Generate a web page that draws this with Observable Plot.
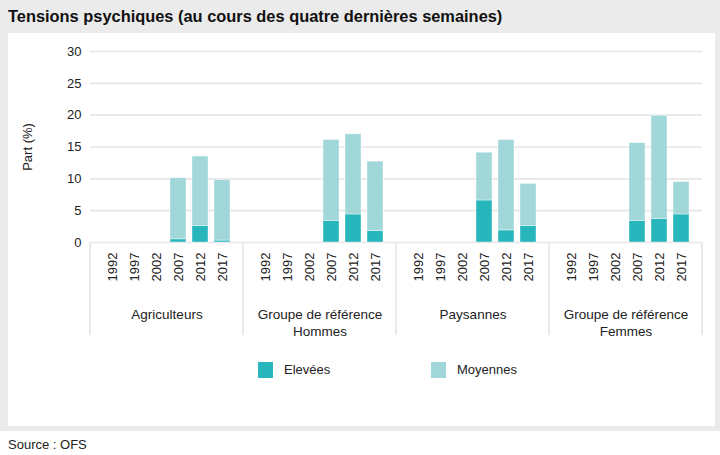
<!DOCTYPE html>
<html>
<head>
<meta charset="utf-8">
<script src="https://cdn.jsdelivr.net/npm/d3@7"></script>
<script src="https://cdn.jsdelivr.net/npm/@observablehq/plot@0.6"></script>
<style>
  html, body { margin: 0; padding: 0; background: #fff; }
  body { width: 720px; height: 455px; overflow: hidden; font-family: "Liberation Sans", Arial, sans-serif; color: #222; }
  #frame { position: absolute; left: 0; top: 0; width: 720px; height: 431px; background: #ebebeb; }
  #title { position: absolute; left: 8px; top: 0; height: 33px; line-height: 33px; font-size: 16.4px; font-weight: bold; color: #111; white-space: nowrap; }
  #panel { position: absolute; left: 8px; top: 33px; width: 707px; height: 393px; background: #fff; }
  #chart { position: absolute; left: 0; top: 0; }
  .leg { position: absolute; top: 329px; height: 16px; font-size: 13px; line-height: 16px; white-space: nowrap; }
  .sw { display: inline-block; width: 15px; height: 16px; vertical-align: top; margin-right: 11px; }
  #source { position: absolute; left: 8px; top: 436px; font-size: 13px; line-height: 18px; color: #222; }
</style>
</head>
<body>
<div id="frame">
  <div id="title">Tensions psychiques (au cours des quatre dernières semaines)</div>
  <div id="panel">
    <div id="chart"></div>
    <div id="legend"></div>
  </div>
</div>
<div id="source">Source : OFS</div>
<script>
const groups = ["Agriculteurs", "Groupe de référence\nHommes", "Paysannes", "Groupe de référence\nFemmes"];
const years = ["1992", "1997", "2002", "2007", "2012", "2017"];
const seriesNames = ["Elevées", "Moyennes"];
const seriesColors = ["#26b6bb", "#a2d7da"];
const yTicks = [0, 5, 10, 15, 20, 25, 30];

// values per group, one per year (null = no data)
const elevees = {
  "Agriculteurs":                  [null, null, null, 0.5, 2.6, 0.3],
  "Groupe de référence\nHommes":   [null, null, null, 3.4, 4.4, 1.8],
  "Paysannes":                     [null, null, null, 6.6, 1.9, 2.6],
  "Groupe de référence\nFemmes":   [null, null, null, 3.4, 3.7, 4.4]
};
const moyennes = {
  "Agriculteurs":                  [null, null, null, 9.6, 10.9, 9.5],
  "Groupe de référence\nHommes":   [null, null, null, 12.7, 12.6, 10.9],
  "Paysannes":                     [null, null, null, 7.5, 14.2, 6.6],
  "Groupe de référence\nFemmes":   [null, null, null, 12.2, 16.2, 5.1]
};

const rows = [];
for (const [name, table] of [[seriesNames[0], elevees], [seriesNames[1], moyennes]]) {
  for (const g of groups) {
    table[g].forEach((v, i) => {
      if (v != null) rows.push({group: g, year: years[i], serie: name, value: v});
    });
  }
}

const W = 707, H = 310;
const plot = Plot.plot({
  width: W,
  height: H,
  marginLeft: 82,
  marginRight: 13,
  marginTop: 18,
  marginBottom: 101,
  style: {fontFamily: "'Liberation Sans', Arial, sans-serif", fontSize: "13px", color: "#222", background: "transparent", overflow: "visible"},
  fx: {domain: groups, padding: 0, axis: null, label: null},
  x: {domain: years, paddingInner: 0.28, paddingOuter: 0.57, label: null},
  y: {domain: [0, 30], label: null},
  color: {domain: seriesNames, range: seriesColors},
  marks: [
    Plot.gridY(yTicks, {stroke: "#e6e6e6", strokeOpacity: 1, strokeWidth: 1.6}),
    Plot.axisY(yTicks, {tickSize: 0, tickPadding: 9, fontSize: 13, label: "Part (%)", labelAnchor: "center", labelOffset: 68, labelArrow: "none"}),
    Plot.axisX({tickSize: 0, tickPadding: 10, tickRotate: -90, fontSize: 13, label: null}),
    Plot.barY(rows, {fx: "group", x: "year", y: "value", fill: "serie", stroke: "#ffffff", strokeOpacity: 0.5, strokeWidth: 0.8}),
    Plot.text(groups, {fx: d => d, text: d => d, frameAnchor: "bottom", lineAnchor: "top", dy: 64, fontSize: 13.5, lineHeight: 1.27, fill: "#222"})
  ]
});
document.getElementById("chart").appendChild(plot);

// facet separators drawn with the fx scale
const fx = plot.scale("fx");
const yS = plot.scale("y");
const y0 = yS.apply(0);
const svg = d3.select(plot.tagName.toLowerCase() === "svg" ? plot : plot.querySelector("svg"));
const edges = groups.map(g => fx.apply(g)).concat([fx.apply(groups[groups.length - 1]) + fx.bandwidth]);
svg.append("g").selectAll("line").data(edges).join("line")
  .attr("x1", d => d).attr("x2", d => d)
  .attr("y1", y0).attr("y2", y0 + 93)
  .attr("stroke", "#e3e3e3").attr("stroke-width", 1.5);

// legend
const legend = document.getElementById("legend");
const legX = [250, 423];
seriesNames.forEach((n, i) => {
  const d = document.createElement("div");
  d.className = "leg";
  d.style.left = legX[i] + "px";
  d.innerHTML = `<span class="sw" style="background:${seriesColors[i]}"></span>${n}`;
  legend.appendChild(d);
});
</script>
</body>
</html>
